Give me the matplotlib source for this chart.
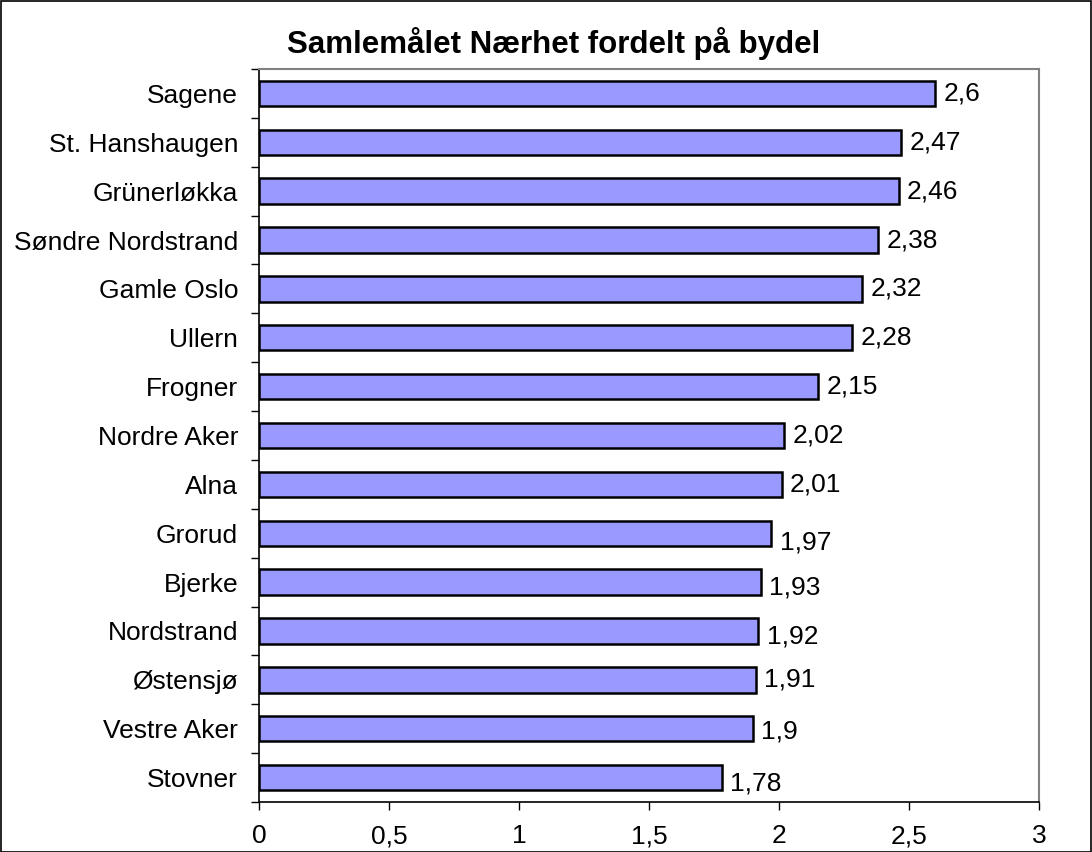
import numpy as np
import matplotlib
matplotlib.use("Agg")
import matplotlib.pyplot as plt
from matplotlib.patches import Rectangle
from matplotlib.ticker import FixedLocator, NullFormatter

plt.rcParams['font.family'] = ['Liberation Sans', 'DejaVu Sans']

districts = ["Sagene", "St. Hanshaugen", "Grünerløkka", "Søndre Nordstrand",
             "Gamle Oslo", "Ullern", "Frogner", "Nordre Aker", "Alna",
             "Grorud", "Bjerke", "Nordstrand", "Østensjø", "Vestre Aker",
             "Stovner"]
scores = [2.6, 2.47, 2.46, 2.38, 2.32, 2.28, 2.15, 2.02, 2.01,
          1.97, 1.93, 1.92, 1.91, 1.9, 1.78]
score_labels = ["2,6", "2,47", "2,46", "2,38", "2,32", "2,28", "2,15", "2,02",
                "2,01", "1,97", "1,93", "1,92", "1,91", "1,9", "1,78"]
# Excel pushed a few labels down a little
label_drop = [0, 0, 0, 0, 0, 0, 0, 0, 0, 7, 4, 4, 0, 2, 4]

xticks = [0, 0.5, 1, 1.5, 2, 2.5, 3]
xtick_labels = ["0", "0,5", "1", "1,5", "2", "2,5", "3"]

W, H = 1092, 852
fs = 19
fig = plt.figure(figsize=(W / 100, H / 100), dpi=100)
ax = fig.add_axes([259 / W, 1 - 802 / H, 780 / W, 733 / H])

n = len(districts)
ypos = np.arange(n)[::-1]
ax.barh(ypos, scores, height=0.52, color="#9999FF", edgecolor="black",
        linewidth=1.8, zorder=3)

for y, v, lab, d in zip(ypos, scores, score_labels, label_drop):
    ax.annotate(lab, (v, y), xytext=(6, -d), textcoords="offset points",
                va="center", ha="left", fontsize=fs)

ax.set_xlim(0, 3)
ax.set_ylim(-0.5, n - 0.5)
ax.set_xticks(xticks)
ax.set_xticklabels(xtick_labels, fontsize=fs)
ax.tick_params(axis="x", direction="out", length=6, width=1, pad=10)

ax.yaxis.set_major_locator(FixedLocator(np.arange(n + 1) - 0.5))
ax.yaxis.set_major_formatter(NullFormatter())
ax.set_yticks(ypos, minor=True)
ax.set_yticklabels(districts, minor=True, fontsize=fs)
ax.tick_params(axis="y", which="major", direction="out", length=6, width=1)
ax.tick_params(axis="y", which="minor", length=0, pad=15)

for side in ["top", "right"]:
    ax.spines[side].set_color("#808080")
    ax.spines[side].set_linewidth(1.5)
for side in ["left", "bottom"]:
    ax.spines[side].set_color("black")
    ax.spines[side].set_linewidth(1.2)

fig.text(554 / W, 1 - 43 / H, "Samlemålet Nærhet fordelt på bydel",
         ha="center", va="center", fontsize=22.5, fontweight="bold")

fig.patches.append(Rectangle((0.5 / W, 0.5 / H), 1 - 1.5 / W, 1 - 1.5 / H,
                             transform=fig.transFigure, fill=False,
                             edgecolor="black", linewidth=1.2))

fig.savefig("out.png", dpi=100)
